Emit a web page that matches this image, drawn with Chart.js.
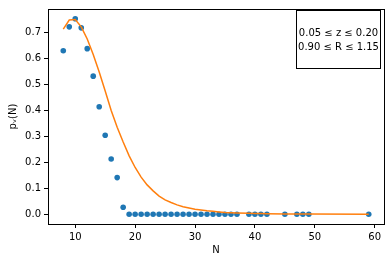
<!DOCTYPE html>
<html>
<head>
<meta charset="utf-8">
<script src="https://cdn.jsdelivr.net/npm/chart.js@4/dist/chart.umd.min.js"></script>
<style>
html,body{margin:0;padding:0;background:#fff;}
#wrap{width:390px;height:262px;}
</style>
</head>
<body>
<div id="wrap"><canvas id="c" width="390" height="262"></canvas></div>
<script>
const nValues = [8,9,10,11,12,13,14,15,16,17,18,19,20,21,22,23,24,25,26,27,28,29,30,31,32,33,34,35,36,37,39,40,41,42,45,47,48,49,59];
const pObserved = [0.630,0.722,0.753,0.718,0.638,0.532,0.414,0.304,0.213,0.141,0.027,0,0,0,0,0,0,0,0,0,0,0,0,0,0,0,0,0,0,0,0,0,0,0,0,0,0,0,0];
const pFit = [0.713,0.748,0.750,0.722,0.675,0.615,0.548,0.475,0.400,0.335,0.278,0.225,0.180,0.143,0.113,0.090,0.070,0.055,0.045,0.036,0.029,0.024,0.019,0.016,0.013,0.011,0.009,0.007,0.006,0.005,0.004,0.003,0.0025,0.002,0.001,0.0006,0.0005,0.0004,0];
const boxLines = ["0.05 \u2264 z \u2264 0.20", "0.90 \u2264 R \u2264 1.15"];
const xLabel = "N";
const yLabel = "p\u1D65(N)";

const FONT = "'DejaVu Sans', sans-serif";

const framePlugin = {
  id: 'frame',
  afterDraw(chart) {
    const ctx = chart.ctx, a = chart.chartArea;
    ctx.save();
    ctx.strokeStyle = '#000';
    ctx.lineWidth = 1;
    ctx.strokeRect(Math.round(a.left) + 0.5, Math.round(a.top) + 0.5, Math.round(a.right - a.left), Math.round(a.bottom - a.top));
    // text box
    const bx = 296.5, by = 10.5, bw = 84, bh = 58;
    ctx.fillStyle = '#fff';
    ctx.fillRect(bx, by, bw, bh);
    ctx.strokeRect(bx, by, bw, bh);
    ctx.fillStyle = '#000';
    ctx.font = "10px " + FONT;
    ctx.textAlign = 'center';
    ctx.textBaseline = 'middle';
    ctx.fillText(boxLines[0], bx + bw / 2, 33.5);
    ctx.fillText(boxLines[1], bx + bw / 2, 47);
    ctx.restore();
  }
};

new Chart(document.getElementById('c'), {
  type: 'scatter',
  data: {
    datasets: [
      {
        type: 'line',
        data: nValues.map((n, i) => ({x: n, y: pFit[i]})),
        borderColor: '#ff7f0e',
        borderWidth: 1.5,
        pointRadius: 0,
        fill: false,
        tension: 0,
        order: 0
      },
      {
        type: 'scatter',
        data: nValues.map((n, i) => ({x: n, y: pObserved[i]})),
        backgroundColor: '#1f77b4',
        borderWidth: 0,
        pointRadius: 2.8,
        order: 1
      }
    ]
  },
  options: {
    responsive: false,
    animation: false,
    devicePixelRatio: 1,
    layout: {padding: {top: 5, right: 6, bottom: 6, left: 0}},
    plugins: {legend: {display: false}, tooltip: {enabled: false}},
    scales: {
      x: {
        type: 'linear',
        min: 5.45, max: 61.55,
        afterFit(s) { s.height = 32; },
        afterBuildTicks(s) { s.ticks = [10,20,30,40,50,60].map(v => ({value: v})); },
        grid: {drawOnChartArea: false, drawTicks: true, tickLength: 4, color: '#000'},
        border: {display: true, color: '#000', width: 1},
        ticks: {color: '#000', font: {family: FONT, size: 10}, padding: 3, maxRotation: 0},
        title: {display: true, text: xLabel, color: '#000', font: {family: FONT, size: 10}, padding: {top: 1, bottom: 0}}
      },
      y: {
        type: 'linear',
        min: -0.0377, max: 0.7907,
        afterFit(s) { s.width = 48; },
        afterBuildTicks(s) { s.ticks = [0,0.1,0.2,0.3,0.4,0.5,0.6,0.7].map(v => ({value: v})); },
        grid: {drawOnChartArea: false, drawTicks: true, tickLength: 4, color: '#000'},
        border: {display: true, color: '#000', width: 1},
        ticks: {color: '#000', font: {family: FONT, size: 10}, padding: 3, callback: v => v.toFixed(1)},
        title: {display: true, text: yLabel, color: '#000', font: {family: FONT, size: 10}, padding: {top: 7, bottom: 2}}
      }
    }
  },
  plugins: [framePlugin]
});
</script>
</body>
</html>
